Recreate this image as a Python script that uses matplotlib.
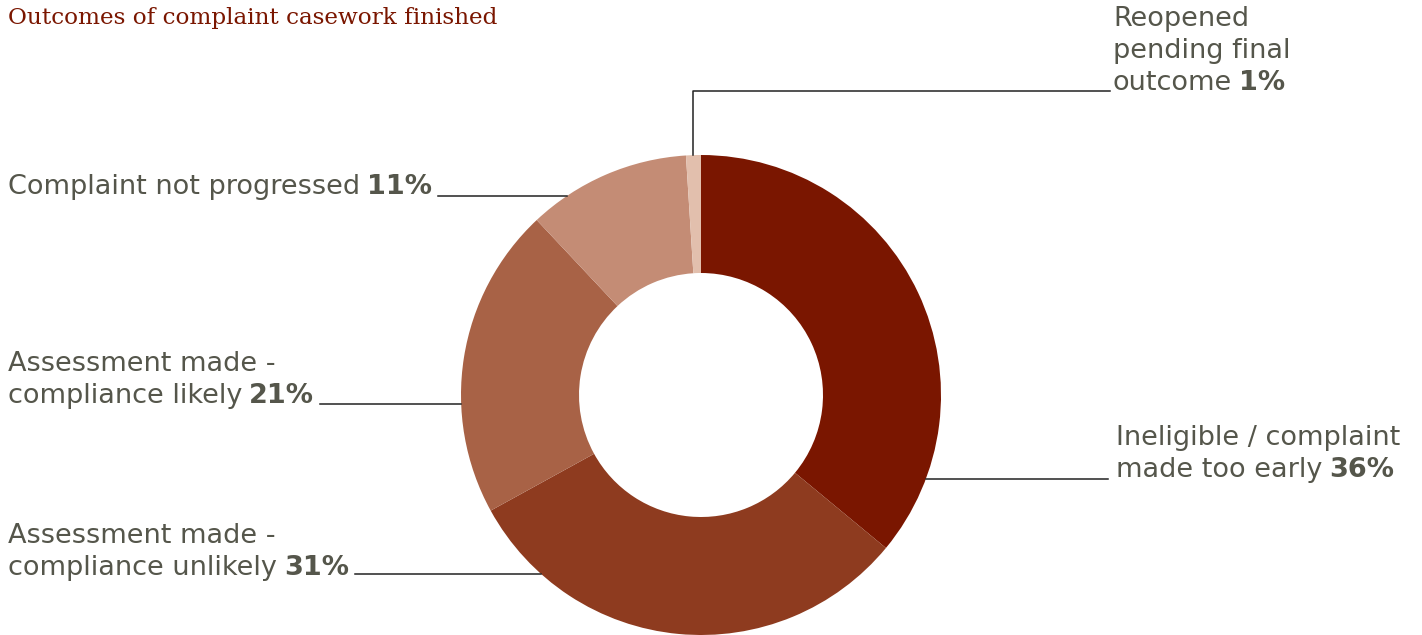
import numpy as np
import matplotlib
matplotlib.use("Agg")
import matplotlib.pyplot as plt

# outcome shares, clockwise from 12 o'clock
shares = [36, 31, 21, 11, 1]
labels = [
    ["Ineligible / complaint", "made too early"],
    ["Assessment made -", "compliance unlikely"],
    ["Assessment made -", "compliance likely"],
    ["Complaint not progressed"],
    ["Reopened", "pending final", "outcome"],
]
colors = ["#7a1600", "#8e3b1f", "#a86246", "#c48c75", "#e2bfad"]

plt.rcParams["font.family"] = ["DejaVu Sans"]

W, H = 1422, 635
fig = plt.figure(figsize=(W / 100, H / 100), dpi=100)
ax = fig.add_axes([0, 0, 1, 1])
ax.set_xlim(0, W)
ax.set_ylim(H, 0)
ax.set_aspect("equal")
ax.axis("off")

cx, cy, R = 701, 395, 240
# pie in an inverted y axis runs mirrored, so flip angles
wedges, _ = ax.pie(shares, colors=colors, startangle=-90, counterclock=True,
                   center=(cx, cy), radius=R,
                   wedgeprops=dict(width=118, linewidth=0))
ax.set_xlim(0, W)
ax.set_ylim(H, 0)

txt_color = "#55564b"
fs = 19.5
line_h = 32

# label placement: left x, y of last line centre, side, leader y
place = [
    (1116, 470, "right", 479),
    (8, 568, "left", 574),
    (8, 396, "left", 404),
    (8, 187, "left", 196),
    (1113, 83, "top", 91),
]

for share, lines, (lx, ly, side, yl) in zip(shares, labels, place):
    n = len(lines)
    for i, s in enumerate(lines):
        t = ax.text(lx, ly - (n - 1 - i) * line_h, s, fontsize=fs,
                    color=txt_color, va="center", ha="left")
    ax.annotate(f"{share}%", xy=(1, 0), xycoords=t, xytext=(5, 0),
                textcoords="offset points", va="bottom", ha="left",
                fontsize=fs, fontweight="bold", color=txt_color)
    if side == "top":
        w = wedges[-1]
        mid = np.deg2rad((w.theta1 + w.theta2) / 2)
        x0 = cx + R * np.cos(mid)
        y0 = cy + R * np.sin(mid)
        ax.plot([x0, x0, lx - 3], [y0, yl, yl], color="#222222", lw=1.1)
    else:
        dx = np.sqrt(R ** 2 - (yl - cy) ** 2)
        if side == "right":
            ax.plot([cx + dx, lx - 8], [yl, yl], color="#222222", lw=1.1)
        else:
            fig.canvas.draw()
            bb = ax.texts[-1].get_window_extent()
            xe = ax.transData.inverted().transform((bb.x1, 0))[0]
            ax.plot([xe + 6, cx - dx], [yl, yl], color="#222222", lw=1.1)

ax.text(8, 18, "Outcomes of complaint casework finished", fontsize=16.7,
        family="DejaVu Serif", color="#7a1600", va="center", ha="left")

fig.savefig("out.png", dpi=100)
